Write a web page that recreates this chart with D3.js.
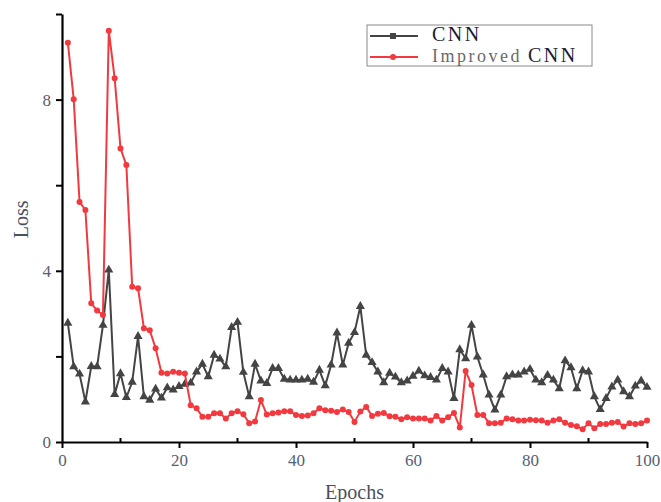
<!DOCTYPE html>
<html>
<head>
<meta charset="utf-8">
<script src="https://cdn.jsdelivr.net/npm/d3@7"></script>
<style>
	body { margin: 0; background: #fff; }
	svg text { font-family: "Liberation Serif", "DejaVu Serif", serif; }
</style>
</head>
<body>
<script>
const svgWidth = 661;
const svgHeight = 502;

// data (epochs 1..100)
const epochs = d3.range(1, 101);
const cnnLoss = [
	2.78, 1.76, 1.59, 0.94, 1.77, 1.76, 2.73, 4.02, 1.11, 1.60,
	1.04, 1.40, 2.47, 1.06, 0.98, 1.24, 1.03, 1.27, 1.22, 1.30,
	1.35, 1.38, 1.64, 1.82, 1.53, 2.03, 1.94, 1.76, 2.68, 2.80,
	1.63, 1.06, 1.82, 1.43, 1.37, 1.72, 1.72, 1.47, 1.45, 1.45,
	1.45, 1.47, 1.40, 1.68, 1.32, 1.80, 2.55, 1.80, 2.31, 2.56,
	3.17, 2.03, 1.86, 1.64, 1.39, 1.61, 1.52, 1.39, 1.43, 1.54,
	1.66, 1.55, 1.51, 1.45, 1.72, 1.64, 1.02, 2.16, 1.95, 2.73,
	1.99, 1.57, 1.10, 0.75, 1.10, 1.53, 1.57, 1.57, 1.64, 1.70,
	1.45, 1.39, 1.56, 1.45, 1.25, 1.90, 1.74, 1.25, 1.67, 1.64,
	1.06, 0.76, 1.02, 1.29, 1.45, 1.18, 1.06, 1.31, 1.43, 1.28
];
const improvedLoss = [
	9.33, 8.01, 5.61, 5.42, 3.24, 3.07, 2.97, 9.61, 8.50, 6.86,
	6.47, 3.63, 3.59, 2.66, 2.61, 2.19, 1.62, 1.60, 1.64, 1.62,
	1.60, 0.86, 0.79, 0.59, 0.59, 0.67, 0.67, 0.55, 0.67, 0.72,
	0.65, 0.44, 0.48, 0.98, 0.64, 0.67, 0.69, 0.72, 0.72, 0.63,
	0.61, 0.62, 0.67, 0.79, 0.74, 0.73, 0.70, 0.76, 0.70, 0.47,
	0.71, 0.82, 0.61, 0.66, 0.68, 0.60, 0.59, 0.53, 0.58, 0.55,
	0.55, 0.55, 0.50, 0.61, 0.50, 0.58, 0.68, 0.34, 1.66, 1.33,
	0.63, 0.63, 0.44, 0.44, 0.45, 0.55, 0.53, 0.50, 0.50, 0.52,
	0.51, 0.50, 0.45, 0.50, 0.53, 0.45, 0.40, 0.37, 0.30, 0.44,
	0.32, 0.42, 0.42, 0.45, 0.47, 0.36, 0.44, 0.42, 0.44, 0.50
];
const xMajorTicks = [0, 20, 40, 60, 80, 100];
const xMinorTicks = [10, 30, 50, 70, 90];
const yTicks = [0, 2, 4, 6, 8, 10];
const yLabels = [0, 4, 8];

const colors = { cnn: "#444444", improved: "#f2393f" };

const svg = d3
	.select("body")
	.append("svg")
	.attr("width", svgWidth)
	.attr("height", svgHeight);

//scales
const xScale = d3.scaleLinear().domain([0, 100]).range([62, 647]);
const yScale = d3.scaleLinear().domain([0, 10]).range([442, 14]);

//=====
//axes
//=====
const labelColor = "#556075";

// x-axis, major ticks out, minor ticks in
const xAxis = svg
	.append("g")
	.attr("transform", `translate(0, ${yScale(0)})`)
	.call(
		d3.axisBottom(xScale)
			.tickValues(xMajorTicks)
			.tickSize(6)
			.tickSizeOuter(0)
			.tickPadding(6)
	);
xAxis.select(".domain").attr("stroke", "#000").attr("stroke-width", 2.2);
xAxis.selectAll(".tick line").attr("stroke", "#000").attr("stroke-width", 2);
xAxis.selectAll(".tick text")
	.style("font-size", "17px")
	.style("font-family", "Liberation Serif, serif")
	.attr("fill", labelColor);

svg
	.append("g")
	.selectAll("line")
	.data(xMinorTicks)
	.enter()
	.append("line")
	.attr("x1", (d) => xScale(d))
	.attr("x2", (d) => xScale(d))
	.attr("y1", yScale(0))
	.attr("y2", yScale(0) - 4)
	.attr("stroke", "#000")
	.attr("stroke-width", 2);

// y-axis
const yAxis = svg
	.append("g")
	.attr("transform", `translate(${xScale(0)}, 0)`)
	.call(
		d3.axisLeft(yScale)
			.tickValues(yTicks)
			.tickSize(6)
			.tickSizeOuter(0)
			.tickPadding(5)
			.tickFormat((d) => (yLabels.includes(d) ? d : ""))
	);
yAxis.select(".domain").attr("stroke", "#000").attr("stroke-width", 2.2);
yAxis.selectAll(".tick line").attr("stroke", "#000").attr("stroke-width", 2);
yAxis.selectAll(".tick text")
	.style("font-size", "17px")
	.style("font-family", "Liberation Serif, serif")
	.attr("fill", labelColor);

// axis titles
svg
	.append("text")
	.attr("transform", `translate(28, ${yScale(5.2)}) rotate(-90)`)
	.attr("text-anchor", "middle")
	.style("font-size", "20px")
	.attr("fill", "#4a5060")
	.text("Loss");

svg
	.append("text")
	.attr("x", (xScale(0) + xScale(100)) / 2)
	.attr("y", 499)
	.attr("text-anchor", "middle")
	.style("font-size", "20px")
	.attr("fill", "#4a5060")
	.text("Epochs");

//=====
//lines
//=====
const line = (values) =>
	d3.line()
		.x((d, i) => xScale(epochs[i]))
		.y((d) => yScale(d))(values);

svg
	.append("path")
	.attr("d", line(cnnLoss))
	.attr("fill", "none")
	.attr("stroke", colors.cnn)
	.attr("stroke-width", 2);

svg
	.append("g")
	.selectAll("path")
	.data(cnnLoss)
	.enter()
	.append("path")
	.attr("d", d3.symbol(d3.symbolTriangle, 36))
	.attr("transform", (d, i) => `translate(${xScale(epochs[i])}, ${yScale(d)})`)
	.attr("fill", colors.cnn);

svg
	.append("path")
	.attr("d", line(improvedLoss))
	.attr("fill", "none")
	.attr("stroke", colors.improved)
	.attr("stroke-width", 2);

svg
	.append("g")
	.selectAll("circle")
	.data(improvedLoss)
	.enter()
	.append("circle")
	.attr("cx", (d, i) => xScale(epochs[i]))
	.attr("cy", (d) => yScale(d))
	.attr("r", 3)
	.attr("fill", colors.improved);

//=====
//legend
//=====
const legend = svg.append("g").attr("transform", "translate(367, 25)");
legend
	.append("rect")
	.attr("width", 225)
	.attr("height", 41)
	.attr("fill", "#fff")
	.attr("stroke", "#8a8a8a")
	.attr("stroke-width", 1);

const legendRows = [
	{ key: "cnn", y: 11 },
	{ key: "improved", y: 32 }
];
legendRows.forEach((r) => {
	legend
		.append("line")
		.attr("x1", 3)
		.attr("x2", 51)
		.attr("y1", r.y)
		.attr("y2", r.y)
		.attr("stroke", colors[r.key])
		.attr("stroke-width", 2);
});
legend
	.append("rect")
	.attr("x", 23)
	.attr("y", 8)
	.attr("width", 6)
	.attr("height", 6)
	.attr("fill", colors.cnn);
legend
	.append("circle")
	.attr("cx", 26)
	.attr("cy", 32)
	.attr("r", 3)
	.attr("fill", colors.improved);

legend
	.append("text")
	.attr("x", 65)
	.attr("y", 16)
	.style("font-size", "20px")
	.style("letter-spacing", "2.5px")
	.attr("fill", "#1b2033")
	.text("CNN");
legend
	.append("text")
	.attr("x", 65)
	.attr("y", 37)
	.style("font-size", "18px")
	.style("letter-spacing", "2.5px")
	.attr("fill", "#6a6a6a")
	.text("Improved");
legend
	.append("text")
	.attr("x", 161)
	.attr("y", 37)
	.style("font-size", "20px")
	.style("letter-spacing", "2.5px")
	.attr("fill", "#1b2033")
	.text("CNN");
</script>
</body>
</html>
